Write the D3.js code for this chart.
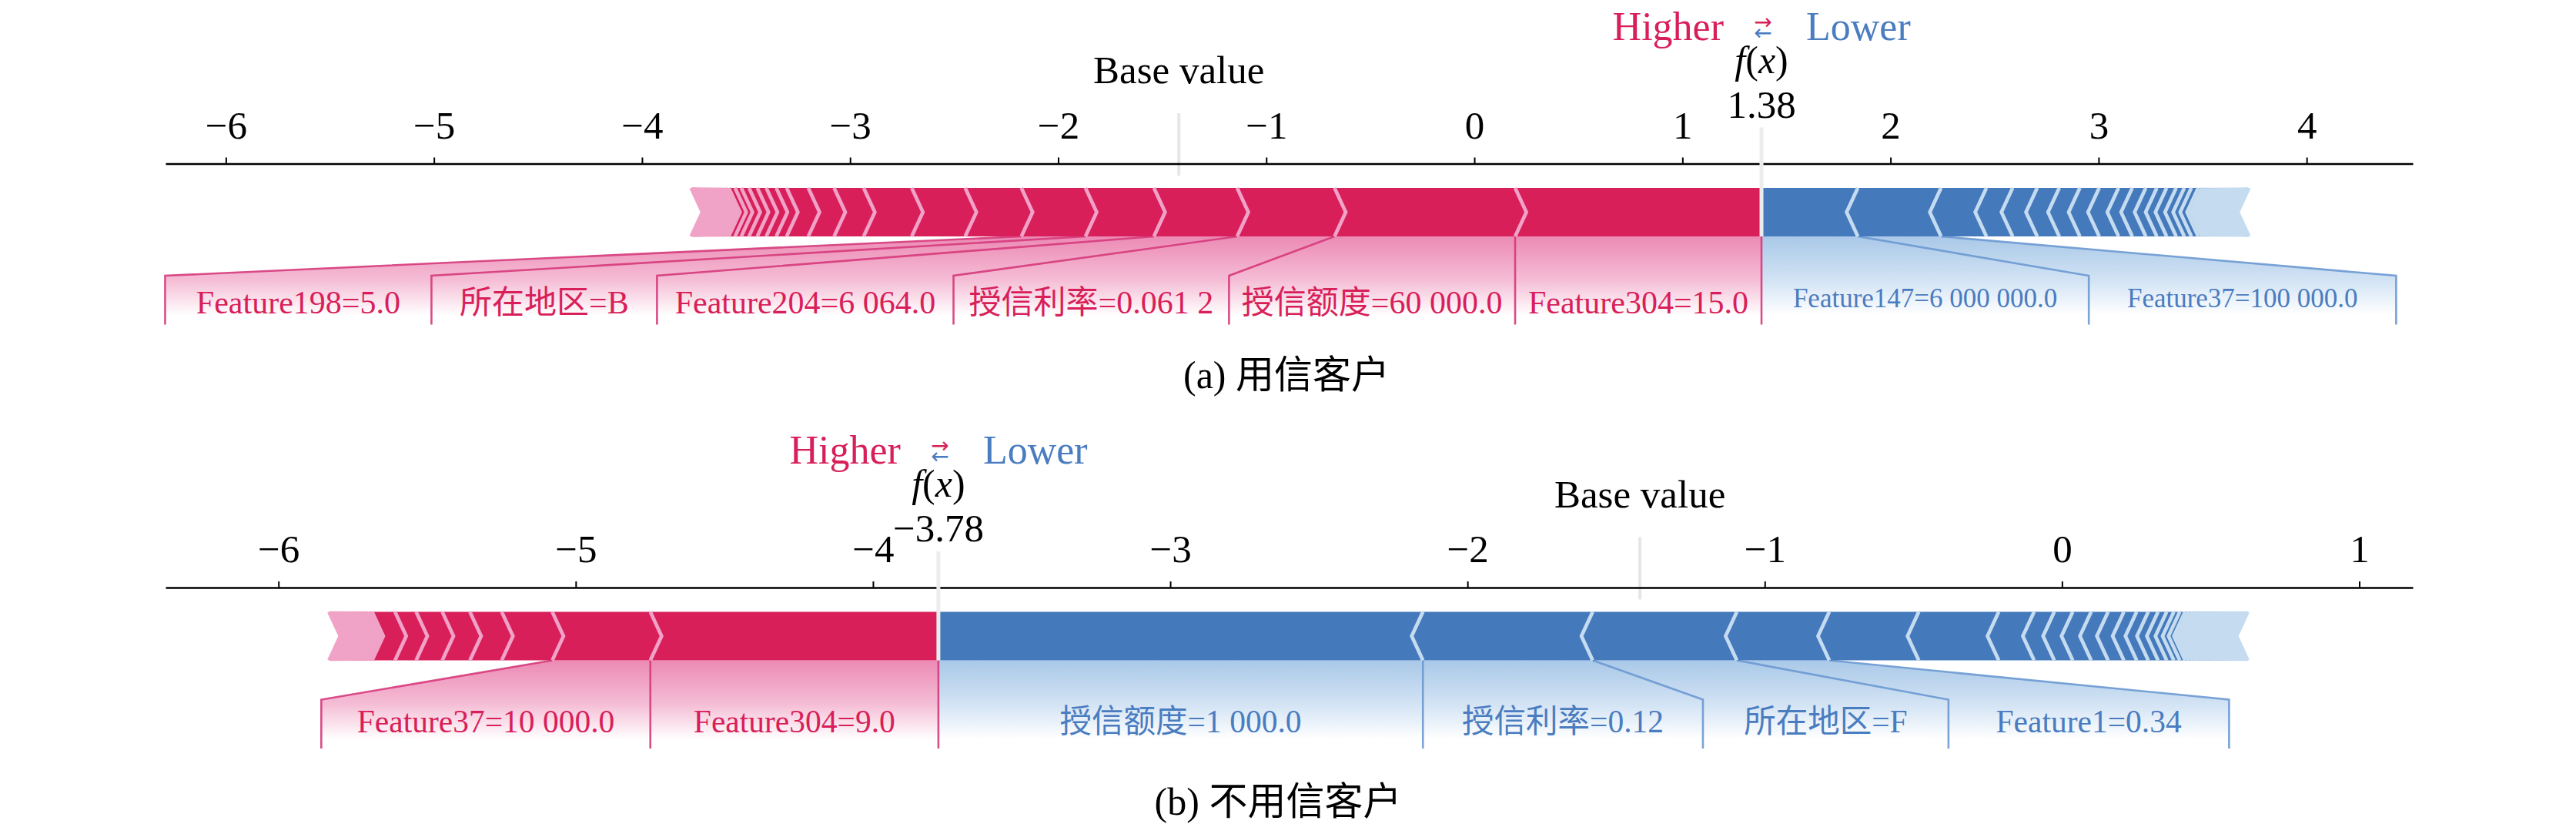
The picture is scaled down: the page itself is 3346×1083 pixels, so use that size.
<!DOCTYPE html>
<html><head><meta charset="utf-8">
<script src="https://cdn.jsdelivr.net/npm/d3@7"></script>
<style>
body{margin:0;background:#fff}
svg{display:block}
text{font-family:"Liberation Serif","Times New Roman","Noto Sans CJK SC",serif}
</style>
</head><body>
<svg id="chart" width="3346" height="1083"></svg>
<script>
// ================= DATA =================
const baseValue = -1.42;

// Panel (a) 用信客户
const outValueA = 1.38;
const domainA = [-6.29, 4.51];
const ticksA = [-6, -5, -4, -3, -2, -1, 0, 1, 2, 3, 4];
const redLabelsA = ["Feature304=15.0", "授信额度=60 000.0", "授信利率=0.061 2", "Feature204=6 064.0", "所在地区=B", "Feature198=5.0"];
const redValuesA = [1.184, 0.868, 0.468, 0.400, 0.329, 0.308, 0.270, 0.257, 0.231, 0.142, 0.124, 0.104, 0.050, 0.048, 0.043, 0.040, 0.037, 0.030, 0.030,
  0.015, 0.014, 0.013, 0.012, 0.012, 0.011, 0.010, 0.010, 0.009, 0.009, 0.008, 0.008, 0.007, 0.007, 0.006, 0.006, 0.005, 0.005, 0.004, 0.004, 0.003, 0.003];
const redLabelEdgesA = [null, -1.179, -2.503, -3.928, -5.012, -6.292];
const blueLabelsA = ["Feature147=6 000 000.0", "Feature37=100 000.0"];
const blueValuesA = [0.463, 0.400, 0.218, 0.126, 0.118, 0.106, 0.099, 0.093, 0.093, 0.066, 0.065, 0.053, 0.047, 0.046, 0.039, 0.034, 0.033, 0.018,
  0.016, 0.015, 0.015, 0.014, 0.014, 0.013, 0.013, 0.012, 0.012, 0.011, 0.011, 0.010, 0.010, 0.009, 0.009, 0.008, 0.008, 0.007, 0.006, 0.005, 0.004, 0.004];
const blueLabelEdgesA = [2.953, 4.430];
const subtitleA = "(a) 用信客户";

// Panel (b) 不用信客户
const outValueB = -3.78;
const domainB = [-6.38, 1.18];
const ticksB = [-6, -5, -4, -3, -2, -1, 0, 1];
const redLabelsB = ["Feature304=9.0", "Feature37=10 000.0"];
const redValuesB = [0.969, 0.330, 0.170, 0.107, 0.093, 0.088, 0.071, 0.077,
  0.012, 0.011, 0.011, 0.010, 0.010, 0.009, 0.009, 0.008, 0.008, 0.007, 0.007, 0.006, 0.006, 0.005, 0.005, 0.004, 0.004, 0.003, 0.003, 0.003, 0.002, 0.002];
const redLabelEdgesB = [null, -5.856];
const blueLabelsB = ["授信额度=1 000.0", "授信利率=0.12", "所在地区=F", "Feature1=0.34"];
const blueValuesB = [1.630, 0.571, 0.485, 0.311, 0.301, 0.269, 0.119, 0.068, 0.062, 0.062, 0.057, 0.053, 0.043, 0.039, 0.033, 0.029, 0.024, 0.020, 0.018,
  0.012, 0.012, 0.011, 0.011, 0.011, 0.010, 0.010, 0.010, 0.009, 0.009, 0.009, 0.008, 0.008, 0.008, 0.007, 0.007, 0.007, 0.006, 0.006, 0.005, 0.005, 0.005, 0.005, 0.004, 0.004, 0.004, 0.003, 0.003, 0.002];
const blueLabelEdgesB = [null, -1.208, -0.382, 0.562];
const subtitleB = "(b) 不用信客户";

const legendHigher = "Higher", legendLower = "Lower", baseText = "Base value";

// ================= STYLE / LAYOUT =================
const C = {
  red: "#D81F5A", redLight: "#F0A3C6", blue: "#4479BC", blueLight: "#C5DBF0",
  redText: "#D81F5A", blueText: "#4A7CC0", redLine: "#D63A7B", blueLine: "#6B99D2"
};
const xRange = [215, 3134];
const panels = [
  { fx: outValueA, domain: domainA, ticks: ticksA, axisY: 212.5,
    red: { labels: redLabelsA, values: redValuesA, edges: redLabelEdgesA, font: 42, base: 194 },
    blue: { labels: blueLabelsA, values: blueValuesA, edges: blueLabelEdgesA, font: 35, base: 186.5 },
    subtitle: subtitleA, subX: 1671, subY: 504 },
  { fx: outValueB, domain: domainB, ticks: ticksB, axisY: 763,
    red: { labels: redLabelsB, values: redValuesB, edges: redLabelEdgesB, font: 41.5, base: 187.5 },
    blue: { labels: blueLabelsB, values: blueValuesB, edges: blueLabelEdgesB, font: 41.5, base: 188 },
    subtitle: subtitleB, subX: 1660, subY: 1057.5 }
];

const svg = d3.select("#chart");
const defs = svg.append("defs");

function segments(values, fx, sign) {
  let pre = fx;
  return values.map((v, i) => {
    let s;
    if (sign > 0) { s = { left: pre - v, right: pre }; pre -= v; }
    else { s = { left: pre, right: pre + v }; pre += v; }
    s.i = i;
    return s;
  });
}

function drawPanel(p, idx) {
  const x = d3.scaleLinear().domain(p.domain).range(xRange);
  const Y = p.axisY;
  const top = Y + 31.5, bot = Y + 94.5, mid = (top + bot) / 2;
  const boxTop = Y + 145.5, lineBot = Y + 209, shadeBot = Y + 197;
  const ind = (xRange[1] - xRange[0]) / 200;
  const g = svg.append("g");

  // gradients
  const gr = defs.append("linearGradient").attr("id", "shR" + idx)
    .attr("gradientUnits", "userSpaceOnUse").attr("x1", 0).attr("x2", 0).attr("y1", bot).attr("y2", shadeBot);
  gr.append("stop").attr("offset", 0).attr("stop-color", "#EC8AB5");
  gr.append("stop").attr("offset", 0.55).attr("stop-color", "#F5BDD5");
  gr.append("stop").attr("offset", 1).attr("stop-color", "#FFFFFF");
  const gb = defs.append("linearGradient").attr("id", "shB" + idx)
    .attr("gradientUnits", "userSpaceOnUse").attr("x1", 0).attr("x2", 0).attr("y1", bot).attr("y2", shadeBot);
  gb.append("stop").attr("offset", 0).attr("stop-color", "#A9C8E8");
  gb.append("stop").attr("offset", 0.55).attr("stop-color", "#D2E3F4");
  gb.append("stop").attr("offset", 1).attr("stop-color", "#FFFFFF");

  // base value line
  g.append("line").attr("x1", x(baseValue)).attr("x2", x(baseValue))
    .attr("y1", Y - 65.5).attr("y2", Y + 15.5).attr("stroke", "#E6E6E6").attr("stroke-width", 4);

  // axis
  const axis = d3.axisTop(x).tickValues(p.ticks).tickSize(8).tickSizeOuter(0).tickPadding(25);
  const ag = g.append("g").attr("transform", `translate(0,${Y})`).call(axis)
    .attr("font-family", null).attr("font-size", null);
  ag.select(".domain").attr("stroke", "#000").attr("stroke-width", 2.6);
  ag.selectAll(".tick line").attr("stroke", "#000").attr("stroke-width", 2);
  ag.selectAll(".tick text").attr("font-size", 51).attr("fill", "#000");

  const redSegs = segments(p.red.values, p.fx, 1);
  const blueSegs = segments(p.blue.values, p.fx, -1);

  // label layout
  function layout(side, segs, sign) {
    let prev = p.fx;
    return side.labels.map((lab, i) => {
      const val = sign > 0 ? segs[i].left : segs[i].right;
      const edge = side.edges[i] === null ? val : side.edges[i];
      const o = { lab, val, edge, from: prev };
      prev = edge;
      return o;
    });
  }
  const redL = layout(p.red, redSegs, 1);
  const blueL = layout(p.blue, blueSegs, -1);

  // shading
  function shade(L, fill) {
    const last = L[L.length - 1];
    const pts = [[x(p.fx), bot], [x(last.val), bot], [x(last.edge), boxTop], [x(last.edge), shadeBot], [x(p.fx), shadeBot]];
    g.append("path").attr("d", d3.line()(pts) + "Z").attr("fill", fill);
  }
  shade(blueL, `url(#shB${idx})`);
  shade(redL, `url(#shR${idx})`);

  // label lines
  function lines(L, color) {
    L.forEach(o => {
      const pts = [[x(o.val), bot], [x(o.edge), boxTop], [x(o.edge), lineBot]];
      g.append("path").attr("d", d3.line()(pts)).attr("fill", "none")
        .attr("stroke", color).attr("stroke-width", 2.6).attr("stroke-opacity", 0.9);
    });
  }
  lines(blueL, C.blueLine);
  lines(redL, C.redLine);
  g.append("line").attr("x1", x(p.fx)).attr("x2", x(p.fx)).attr("y1", bot).attr("y2", lineBot)
    .attr("stroke", C.redLine).attr("stroke-width", 2.6).attr("stroke-opacity", 0.9);

  // bars
  const bars = g.append("g");
  const seps = g.append("g");
  blueSegs.forEach(s => {
    const L = x(s.left), R = x(s.right);
    let pts;
    if (s.i === 0) pts = [[R, bot], [L, bot], [L, top], [R, top], [R - ind, mid]];
    else pts = [[L, bot], [R, bot], [R - ind * 0.9, mid], [R, top], [L, top], [L - ind * 0.9, mid]];
    bars.append("path").attr("d", d3.line()(pts) + "Z").attr("fill", C.blue);
    seps.append("path").attr("d", d3.line()([[R, bot], [R - ind, mid], [R, top]]))
      .attr("fill", "none").attr("stroke", C.blueLight).attr("stroke-width", 4.7);
  });
  redSegs.forEach(s => {
    const L = x(s.left), R = x(s.right);
    let pts;
    if (s.i === 0) pts = [[L, bot], [R, bot], [R, top], [L, top], [L + ind, mid]];
    else pts = [[L, bot], [R, bot], [R + ind * 0.9, mid], [R, top], [L, top], [L + ind * 0.9, mid]];
    bars.append("path").attr("d", d3.line()(pts) + "Z").attr("fill", C.red);
    seps.append("path").attr("d", d3.line()([[L, bot], [L + ind, mid], [L, top]]))
      .attr("fill", "none").attr("stroke", C.redLight).attr("stroke-width", 4.7);
  });

  // output line
  g.append("line").attr("x1", x(p.fx)).attr("x2", x(p.fx)).attr("y1", Y - 47).attr("y2", bot)
    .attr("stroke", "#ECECEC").attr("stroke-width", 5);

  // label texts
  function texts(L, side, color) {
    L.forEach(o => {
      g.append("text").attr("x", x((o.from + o.edge) / 2)).attr("y", Y + side.base)
        .attr("text-anchor", "middle").attr("font-size", side.font).attr("fill", color).text(o.lab);
    });
  }
  texts(redL, p.red, C.redText);
  texts(blueL, p.blue, C.blueText);

  // base value text
  g.append("text").attr("x", x(baseValue)).attr("y", Y - 104.5).attr("text-anchor", "middle")
    .attr("font-size", 51).attr("fill", "#000").text(baseText);

  // f(x) label and value
  const fxT = g.append("text").attr("x", x(p.fx)).attr("y", Y - 118).attr("text-anchor", "middle")
    .attr("font-size", 50).attr("fill", "#000");
  fxT.append("tspan").attr("font-style", "italic").text("f");
  fxT.append("tspan").text("(");
  fxT.append("tspan").attr("font-style", "italic").text("x");
  fxT.append("tspan").text(")");
  g.append("text").attr("x", x(p.fx)).attr("y", Y - 60).attr("text-anchor", "middle")
    .attr("font-size", 51).attr("fill", "#000").text(d3.format(".2f")(p.fx));

  // higher / lower
  g.append("text").attr("x", x(p.fx) - 49).attr("y", Y - 160.8).attr("text-anchor", "end")
    .attr("font-size", 52).attr("fill", C.redText).text(legendHigher);
  g.append("text").attr("x", x(p.fx) + 58).attr("y", Y - 160.8).attr("text-anchor", "start")
    .attr("font-size", 52).attr("fill", C.blueText).text(legendLower);
  const arr = g.append("text").attr("text-anchor", "middle").attr("font-size", 28)
    .style("font-family", "'DejaVu Sans', sans-serif");
  arr.append("tspan").attr("x", x(p.fx) + 2).attr("y", Y - 175).attr("fill", C.redText).text("→");
  arr.append("tspan").attr("x", x(p.fx) + 2).attr("y", Y - 161).attr("fill", C.blueText).text("←");

  // subtitle
  g.append("text").attr("x", p.subX).attr("y", p.subY).attr("text-anchor", "middle")
    .attr("font-size", 50).attr("fill", "#000").text(p.subtitle);
}

panels.forEach(drawPanel);
</script>
</body></html>
